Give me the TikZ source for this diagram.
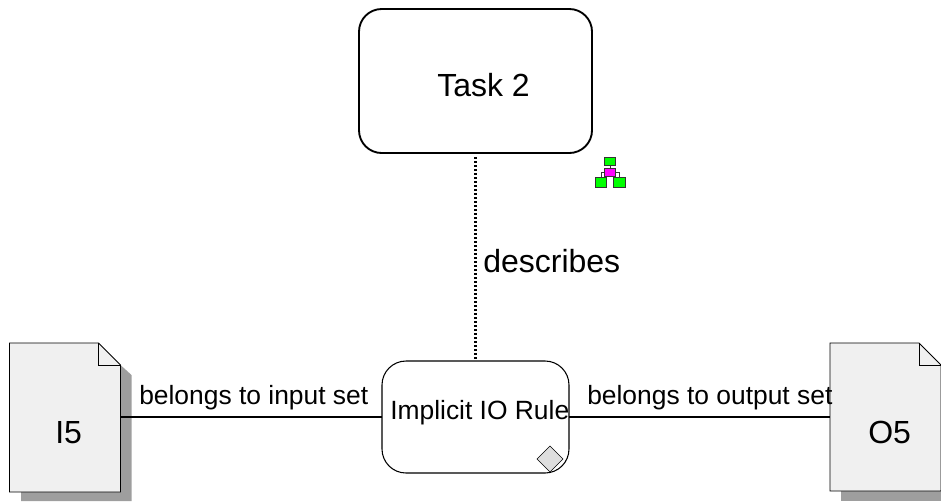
\documentclass[tikz,border=0pt]{standalone}
\usepackage{fontspec}
\setmainfont{Liberation Sans}
\definecolor{iconpink}{RGB}{255,0,255}
\definecolor{icongreen}{RGB}{0,255,0}
\tikzset{
  taskbox/.style={draw,line width=1.4pt,rounded corners=17pt,minimum width=174.75pt,minimum height=108pt,inner sep=0pt,outer sep=0pt},
  rulebox/.style={draw,line width=0.8pt,rounded corners=18pt,minimum width=140.25pt,minimum height=84pt,inner sep=0pt,outer sep=0pt},
  docbox/.style={minimum width=83.25pt,minimum height=111.75pt,inner sep=0pt,outer sep=0pt},
  iconbox/.style={draw=black!80,line width=0.75pt,minimum width=8.5pt,minimum height=6pt,inner sep=0pt,outer sep=0pt},
  linktext/.style={anchor=base west,inner sep=0pt,font=\fontsize{19.8pt}{22pt}\selectfont},
  bigtext/.style={anchor=base west,inner sep=0pt,font=\fontsize{24pt}{26pt}\selectfont},
}
\begin{document}
\begin{tikzpicture}[x=0.75pt,y=-0.75pt]
\path[use as bounding box,clip] (0,0) rectangle (941,501);

\coordinate (A) at (9.5,343);
\coordinate (B) at (98.5,343);
\coordinate (C) at (120.5,365);
\coordinate (D) at (120.5,492);
\coordinate (E) at (9.5,492);
\coordinate (F) at (98.5,365);
\coordinate (A') at (830,343);
\coordinate (B') at (919,343);
\coordinate (C') at (941,365);
\coordinate (D') at (941,491);
\coordinate (E') at (830,491);
\coordinate (F') at (919,365);

% shadows
\fill[black!38] (21,480)--(120.5,365)--(131.5,375)--(131.5,501)--(21,501)--cycle;
\fill[black!38] (841,400)--(952,400)--(952,501)--(841,501)--cycle;

% documents
\node[docbox] (I5) at (65,417) {};
\node[docbox] (O5) at (885.5,417) {};
\draw[fill=black!6,line width=0.7pt] (A)--(B)--(C)--(D)--(E)--cycle;
\draw[line width=0.7pt] (B)--(F)--(C);
\draw[fill=black!6,line width=0.7pt] (A')--(B')--(C')--(D')--(E')--cycle;
\draw[line width=0.7pt] (B')--(F')--(C');

% boxes
\node[taskbox] (task) at (475.5,81) {};
\node[rulebox] (rule) at (475.5,417) {};
\draw[fill=black!13,line width=0.5pt] (537,459)--(550,446)--(563,459)--(550,472)--cycle;

% links
\draw[line width=0.8pt] (I5)--(rule);
\draw[line width=0.8pt] (rule)--(O5);
\draw[line width=1.6pt,dash pattern=on 1.5pt off 1.5pt,shorten <=3pt] (task)--(rule);

% texts
\node[bigtext] (tasktext) at (437,96.5) {Task 2};
\node[linktext] (ruletext) at (390,419) {Implicit IO Rule};
\node[bigtext] (I5text) at (55,443) {I5};
\node[bigtext] (O5text) at (868,443) {O5};
\node[linktext] (intext) at (139,404) {belongs to input set};
\node[linktext] (outtext) at (587,404) {belongs to output set};
\node[bigtext] (desc) at (483,272) {describes};

% icon
\node[iconbox,fill=icongreen] (top) at (610,161) {};
\node[iconbox,fill=iconpink] (mid) at (610,172) {};
\node[iconbox,fill=icongreen,minimum height=7pt] (left) at (601,182.5) {};
\node[iconbox,fill=icongreen,minimum height=7pt] (right) at (619.5,182.5) {};
\draw[black!80,line width=0.75pt] (top)--(mid);
\draw[black!80,line width=0.75pt] (mid.west)-|(left);
\draw[black!80,line width=0.75pt] (mid.east)-|(right);
\end{tikzpicture}
\end{document}
